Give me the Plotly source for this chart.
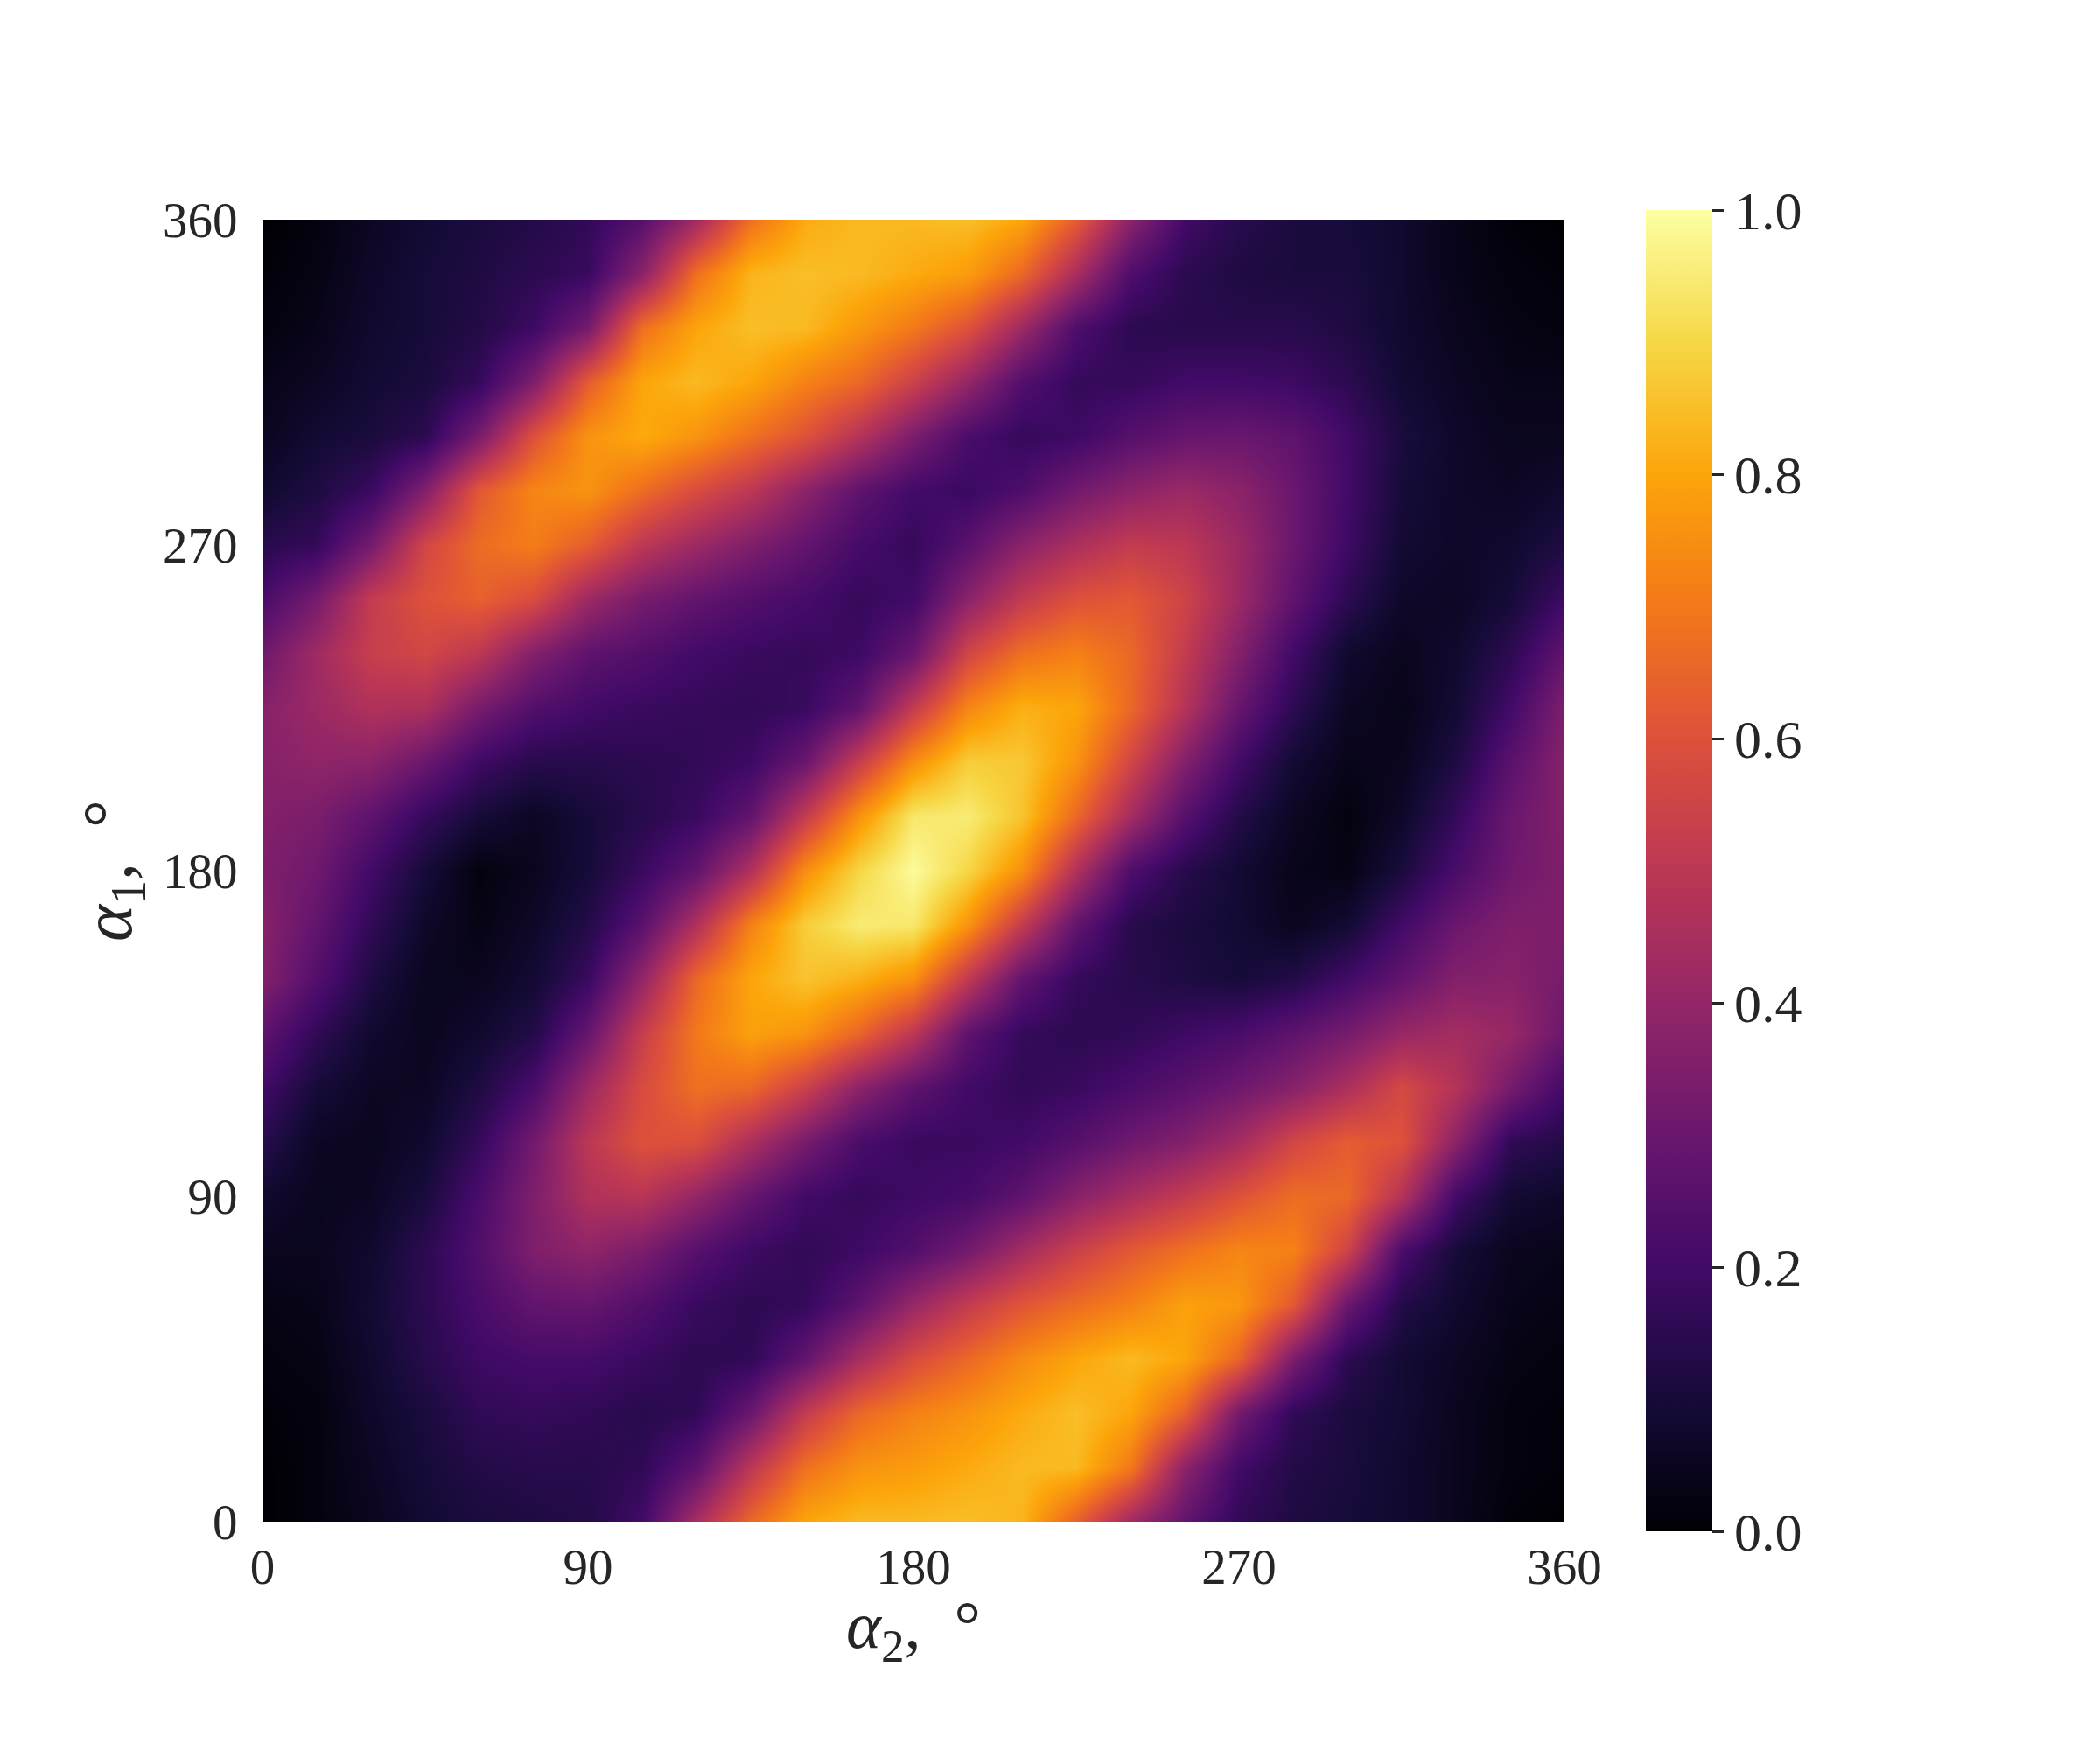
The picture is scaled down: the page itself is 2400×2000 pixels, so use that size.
import plotly.graph_objects as go

alpha_2 = [0, 15, 30, 45, 60, 75, 90, 105, 120, 135, 150, 165, 180, 195, 210, 225, 240, 255, 270, 285, 300, 315, 330, 345, 360]
alpha_1 = [0, 15, 30, 45, 60, 75, 90, 105, 120, 135, 150, 165, 180, 195, 210, 225, 240, 255, 270, 285, 300, 315, 330, 345, 360]

row_000 = [0, .02, .05, .09, .11, .12, .13, .2, .45, .66, .8, .84, .84, .85, .83, .64, .43, .28, .16, .12, .1, .08, .05, .01, 0]
row_015 = [0, .02, .06, .1, .13, .14, .14, .16, .27, .5, .68, .76, .78, .81, .84, .84, .7, .38, .2, .13, .11, .08, .05, .02, .01]
row_030 = [.01, .02, .07, .11, .16, .17, .16, .14, .16, .3, .52, .66, .72, .76, .81, .85, .8, .64, .32, .16, .11, .09, .05, .02, .01]
row_045 = [.02, .03, .08, .14, .19, .21, .21, .18, .15, .16, .28, .45, .58, .66, .74, .8, .84, .8, .65, .34, .15, .09, .06, .03, .02]
row_060 = [.03, .04, .09, .15, .22, .28, .29, .24, .18, .15, .17, .27, .41, .52, .61, .67, .72, .79, .77, .62, .3, .13, .08, .04, .03]
row_075 = [.05, .05, .08, .15, .24, .35, .39, .34, .25, .19, .16, .19, .24, .32, .44, .54, .62, .68, .73, .72, .55, .22, .1, .05, .04]
row_090 = [.08, .05, .06, .11, .22, .35, .47, .49, .4, .29, .2, .17, .19, .21, .27, .37, .45, .52, .6, .67, .66, .48, .2, .09, .07]
row_105 = [.14, .06, .05, .08, .17, .32, .5, .6, .59, .46, .33, .22, .18, .18, .2, .25, .31, .36, .44, .56, .63, .6, .38, .16, .13]
row_120 = [.2, .1, .06, .06, .12, .22, .42, .58, .68, .66, .54, .38, .27, .2, .16, .18, .22, .26, .31, .37, .46, .57, .48, .33, .2]
row_135 = [.27, .16, .08, .05, .08, .13, .29, .53, .7, .79, .76, .65, .5, .27, .17, .15, .16, .19, .22, .27, .33, .41, .44, .41, .3]
row_150 = [.36, .24, .12, .05, .05, .09, .18, .4, .66, .8, .86, .82, .75, .51, .28, .17, .14, .12, .1, .13, .2, .28, .36, .37, .33]
row_165 = [.37, .28, .16, .07, .03, .07, .13, .26, .47, .72, .88, .95, .94, .76, .52, .28, .14, .11, .09, .05, .09, .2, .3, .35, .35]
row_180 = [.35, .31, .2, .1, .02, .05, .1, .18, .28, .47, .75, .9, .99, .9, .75, .47, .23, .14, .09, .04, .03, .11, .22, .31, .35]
row_195 = [.36, .34, .27, .17, .1, .06, .1, .14, .18, .28, .52, .76, .94, .95, .86, .66, .44, .25, .13, .06, .02, .07, .17, .3, .36]
row_210 = [.37, .39, .38, .3, .19, .14, .14, .15, .16, .19, .3, .53, .75, .88, .87, .76, .56, .36, .2, .09, .04, .05, .12, .26, .37]
row_225 = [.37, .42, .47, .46, .33, .24, .2, .18, .17, .16, .18, .28, .52, .73, .82, .8, .66, .48, .29, .15, .06, .04, .09, .2, .35]
row_240 = [.31, .43, .53, .56, .5, .36, .27, .24, .2, .18, .17, .19, .3, .56, .68, .72, .66, .52, .36, .2, .08, .05, .08, .15, .28]
row_255 = [.22, .33, .52, .6, .64, .58, .42, .33, .28, .24, .21, .17, .2, .38, .52, .6, .62, .55, .42, .27, .15, .07, .06, .1, .19]
row_270 = [.14, .17, .33, .56, .67, .71, .63, .5, .42, .35, .28, .21, .17, .26, .38, .46, .52, .5, .42, .3, .19, .09, .07, .08, .12]
row_285 = [.08, .12, .18, .36, .62, .73, .76, .67, .58, .5, .38, .27, .2, .18, .23, .32, .38, .42, .38, .3, .2, .1, .07, .06, .08]
row_300 = [.05, .09, .11, .15, .34, .6, .76, .81, .76, .68, .6, .48, .34, .22, .17, .19, .25, .29, .3, .27, .2, .11, .07, .05, .05]
row_315 = [.04, .06, .09, .11, .17, .35, .63, .8, .84, .8, .72, .66, .54, .4, .24, .17, .17, .2, .2, .19, .15, .09, .06, .04, .04]
row_330 = [.02, .04, .08, .1, .13, .19, .33, .68, .8, .85, .84, .77, .7, .6, .42, .23, .15, .14, .14, .14, .12, .08, .05, .03, .02]
row_345 = [.01, .03, .07, .1, .12, .15, .18, .38, .68, .83, .85, .84, .81, .78, .66, .45, .23, .15, .12, .11, .11, .08, .04, .02, .01]
row_360 = [0, .02, .06, .09, .11, .13, .16, .25, .43, .68, .81, .84, .84, .85, .8, .63, .38, .2, .14, .11, .1, .08, .04, .01, 0]

z_values = [row_000, row_015, row_030, row_045, row_060, row_075, row_090, row_105, row_120,
            row_135, row_150, row_165, row_180, row_195, row_210, row_225, row_240, row_255,
            row_270, row_285, row_300, row_315, row_330, row_345, row_360]

axis_ticks = [0, 90, 180, 270, 360]
bar_ticks = [0, 0.2, 0.4, 0.6, 0.8, 1.0]
bar_labels = ["0.0", "0.2", "0.4", "0.6", "0.8", "1.0"]

inferno = [[0.0, "#000004"], [0.1, "#160b39"], [0.2, "#420a68"], [0.3, "#6a176e"],
           [0.4, "#932667"], [0.5, "#bc3754"], [0.6, "#dd513a"], [0.7, "#f37819"],
           [0.8, "#fca50a"], [0.9, "#f6d746"], [1.0, "#fcffa4"]]

INK = "#262626"
FONT = "Liberation Serif"

fig = go.Figure(go.Heatmap(
    x=alpha_2, y=alpha_1, z=z_values,
    zmin=0, zmax=1, zsmooth="best",
    colorscale=inferno, hoverinfo="skip",
    colorbar=dict(
        x=(1881 - 300) / 1488, xanchor="left", xpad=0,
        y=0.5, yanchor="middle", ypad=0,
        thicknessmode="pixels", thickness=76,
        lenmode="pixels", len=1510,
        outlinewidth=0,
        tickmode="array", tickvals=bar_ticks, ticktext=bar_labels,
        ticks="outside", ticklen=13, tickwidth=3, tickcolor=INK,
        tickfont=dict(family=FONT, size=62, color=INK),
    ),
))

common = dict(
    range=[0, 360], tickmode="array", tickvals=axis_ticks,
    ticktext=[str(v) for v in axis_ticks],
    ticks="outside", tickcolor="rgba(0,0,0,0)",
    showgrid=False, zeroline=False, showline=False,
    tickfont=dict(family=FONT, size=57, color=INK),
)
fig.update_xaxes(**common, ticklen=2)
fig.update_yaxes(**common, ticklen=16, title=dict(
    text="<i>α</i><sub>1</sub>,\u00a0\u00a0°", standoff=9,
    font=dict(family=FONT, size=80, color=INK)))

fig.add_annotation(
    xref="paper", yref="paper", x=0.5, y=-0.083,
    xanchor="center", yanchor="middle", showarrow=False,
    text="<i>α</i><sub>2</sub>,\u00a0\u00a0°",
    font=dict(family=FONT, size=76, color=INK),
)

fig.update_layout(
    width=2400, height=2000, autosize=False,
    paper_bgcolor="white", plot_bgcolor="white",
    margin=dict(l=292, r=620, t=243, b=269, autoexpand=False),
)
fig.write_html("out.html")
